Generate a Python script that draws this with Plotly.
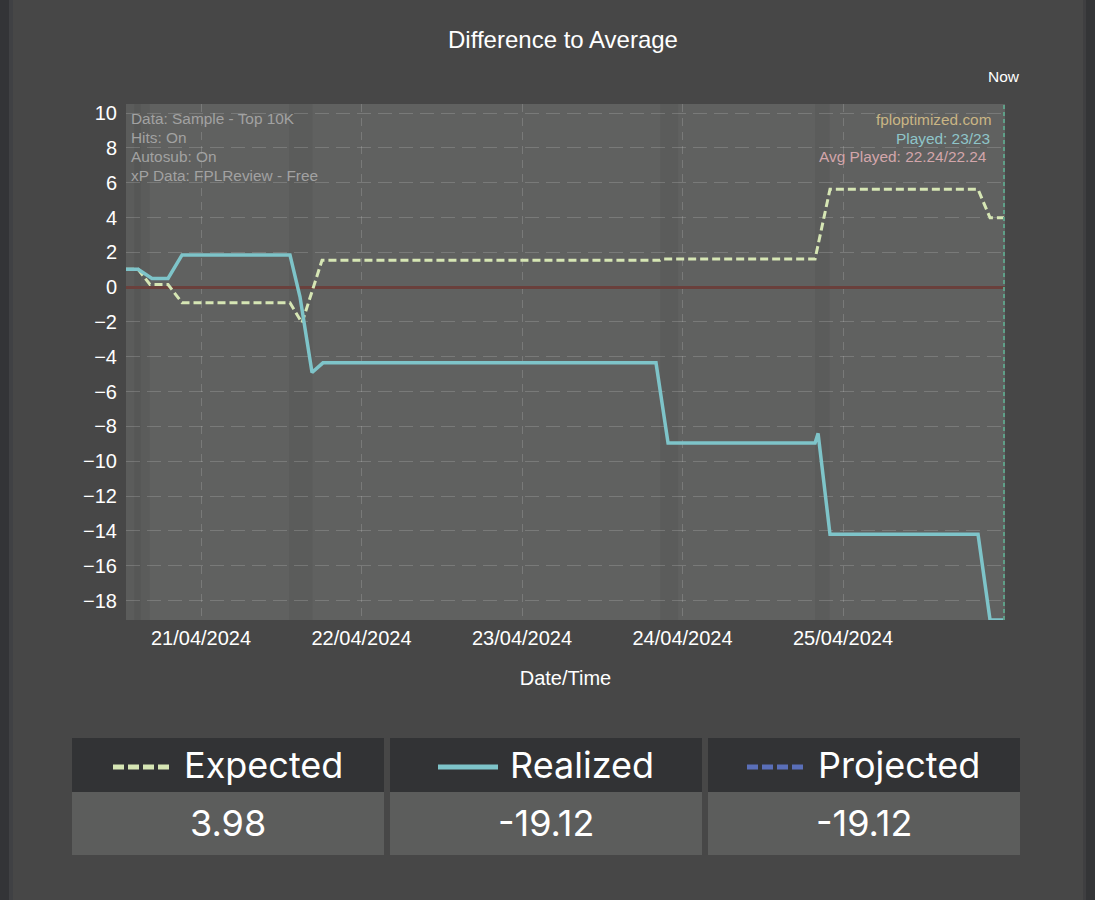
import plotly.graph_objects as go

# ---------------- data ----------------
realized_times = ["2024-04-20 12:47", "2024-04-20 14:35", "2024-04-20 16:40", "2024-04-20 19:04",
                  "2024-04-20 21:10", "2024-04-21 13:18", "2024-04-21 14:48", "2024-04-21 16:36",
                  "2024-04-21 18:14", "2024-04-23 20:02", "2024-04-23 21:50", "2024-04-24 19:49",
                  "2024-04-24 20:16", "2024-04-24 21:36", "2024-04-24 22:03", "2024-04-25 20:11",
                  "2024-04-25 21:59", "2024-04-26 00:04"]
realized_vals = [1.03, 1.03, 0.5, 0.5, 1.85, 1.85, -0.55, -4.9, -4.35, -4.35, -8.95, -8.95,
                 -8.4, -13.0, -14.2, -14.2, -19.12, -19.12]

expected_times = ["2024-04-20 12:47", "2024-04-20 14:35", "2024-04-20 16:22", "2024-04-20 19:04",
                  "2024-04-20 21:10", "2024-04-21 13:18", "2024-04-21 15:06", "2024-04-21 18:06",
                  "2024-04-23 20:38", "2024-04-23 21:00", "2024-04-24 19:49", "2024-04-24 22:03",
                  "2024-04-25 20:11", "2024-04-25 21:59", "2024-04-26 00:04"]
expected_vals = [1.03, 1.03, 0.15, 0.15, -0.9, -0.9, -2.05, 1.55, 1.55, 1.62, 1.62, 5.62,
                 5.62, 3.98, 3.98]

# fixture (live) windows shaded in the plot
band_starts = ["2024-04-20 12:47", "2024-04-20 14:00", "2024-04-21 13:10", "2024-04-23 20:40",
               "2024-04-24 19:49"]
band_ends = ["2024-04-20 16:20", "2024-04-20 15:00", "2024-04-21 16:40", "2024-04-23 23:20",
             "2024-04-24 22:00"]

now_time = "2024-04-26 00:04"
x_range = ["2024-04-20 12:47", "2024-04-26 00:13"]
x_ticks = ["2024-04-21", "2024-04-22", "2024-04-23", "2024-04-24", "2024-04-25"]
y_range = [-19.12, 10.52]
y_ticks = list(range(-18, 11, 2))

summary_labels = ["Expected", "Realized", "Projected"]
summary_values = ["3.98", "-19.12", "-19.12"]
summary_colors = ["#d6e6b4", "#7ec4c9", "#5a6fb8"]
summary_dash = ["11px,4px", "solid", "11px,4px"]

info_left = ["Data: Sample - Top 10K", "Hits: On", "Autosub: On", "xP Data: FPLReview - Free"]
info_right = ["fploptimized.com", "Played: 23/23", "Avg Played: 22.24/22.24"]
info_right_colors = ["#c9b584", "#8fc5c9", "#d3a6ab"]

# ---------------- geometry helpers ----------------
W, H = 1095, 900
L, R, T, B = 126, 1005, 104, 620


def px(x):
    return (x - L) / (R - L)


def py(y):
    return (B - y) / (B - T)


FONT = "Liberation Sans, Arial, sans-serif"
TFONT = "Inter, Noto Sans, sans-serif"

fig = go.Figure()

fig.add_trace(go.Scatter(x=expected_times, y=expected_vals, mode="lines", name="Expected",
                         line=dict(color="#d6e6b4", width=3, dash="8px,4px"),
                         showlegend=False))
fig.add_trace(go.Scatter(x=realized_times, y=realized_vals, mode="lines", name="Realized",
                         line=dict(color="#7ec4c9", width=3.5), showlegend=False))

shapes = []
# page side strips
shapes.append(dict(type="rect", xref="paper", yref="paper", x0=px(0), x1=px(9), y0=py(900), y1=py(0),
                   fillcolor="#333437", line_width=0, layer="below"))
shapes.append(dict(type="rect", xref="paper", yref="paper", x0=px(9), x1=px(13), y0=py(900), y1=py(0),
                   fillcolor="#404144", line_width=0, layer="below"))
shapes.append(dict(type="rect", xref="paper", yref="paper", x0=px(1083), x1=px(1086), y0=py(900), y1=py(0),
                   fillcolor="#3f3f41", line_width=0, layer="below"))
shapes.append(dict(type="rect", xref="paper", yref="paper", x0=px(1086), x1=px(1095), y0=py(900), y1=py(0),
                   fillcolor="#343537", line_width=0, layer="below"))

# fixture bands
for s, e in zip(band_starts, band_ends):
    shapes.append(dict(type="rect", xref="x", yref="paper", x0=s, x1=e, y0=0, y1=1,
                       fillcolor="rgba(0,0,0,0.05)", line_width=0, layer="below"))

# now line
shapes.append(dict(type="line", xref="x", yref="paper", x0=now_time, x1=now_time, y0=0, y1=1,
                   line=dict(color="#5f9f88", width=2, dash="4px,3px")))

# summary table
boxes = [(72, 384), (390, 702), (708, 1020)]
leg_x = [(113, 171), (438, 498), (747, 807)]
txt_x = [184, 510, 818]
for i, (x0, x1) in enumerate(boxes):
    shapes.append(dict(type="rect", xref="paper", yref="paper", x0=px(x0), x1=px(x1),
                       y0=py(792), y1=py(738), fillcolor="#323335", line_width=0))
    shapes.append(dict(type="rect", xref="paper", yref="paper", x0=px(x0), x1=px(x1),
                       y0=py(855), y1=py(792), fillcolor="#5c5d5c", line_width=0))
    shapes.append(dict(type="line", xref="paper", yref="paper", x0=px(leg_x[i][0]), x1=px(leg_x[i][1]),
                       y0=py(767), y1=py(767),
                       line=dict(color=summary_colors[i], width=5, dash=summary_dash[i])))

annotations = []
# Now label
annotations.append(dict(text="Now", xref="x", yref="paper", x=now_time, y=py(77), showarrow=False,
                        xanchor="center", yanchor="middle", font=dict(color="white", size=15.5, family=FONT)))
# info text
for i, t in enumerate(info_left):
    annotations.append(dict(text=t, xref="paper", yref="paper", x=px(129), y=py(118 + 19.3 * i),
                            showarrow=False, xanchor="left", yanchor="middle",
                            font=dict(color="#a2a2a2", size=15.4, family=FONT)))
right_edges = [993, 992, 989]
for i, t in enumerate(info_right):
    annotations.append(dict(text=t, xref="paper", yref="paper", x=px(right_edges[i]), y=py(119 + 19 * i),
                            showarrow=False, xanchor="right", yanchor="middle",
                            font=dict(color=info_right_colors[i], size=15.4, family=FONT)))
# table texts
for i, (x0, x1) in enumerate(boxes):
    annotations.append(dict(text=summary_labels[i], xref="paper", yref="paper", x=px(txt_x[i] - 2), y=py(765),
                            showarrow=False, xanchor="left", yanchor="middle",
                            font=dict(color="white", size=36, family=TFONT)))
    annotations.append(dict(text=summary_values[i], xref="paper", yref="paper", x=px((x0 + x1) / 2),
                            y=py(823), showarrow=False, xanchor="center", yanchor="middle",
                            font=dict(color="white", size=36, family=TFONT)))

fig.update_layout(
    width=W, height=H,
    margin=dict(l=L, r=W - R, t=T, b=H - B, autoexpand=False),
    paper_bgcolor="#474747",
    plot_bgcolor="#606160",
    font=dict(family=FONT, color="white", size=20),
    title=dict(text="Difference to Average", x=px(563), xref="paper", y=1 - 40 / H, yref="container",
               xanchor="center", yanchor="middle", font=dict(size=24, color="white", family=FONT)),
    shapes=shapes,
    annotations=annotations,
    showlegend=False,
)
fig.update_xaxes(
    type="date", range=x_range, tickformat="%d/%m/%Y", tickvals=x_ticks,
    showgrid=True, gridcolor="rgba(255,255,255,0.16)", griddash="8px,6px", gridwidth=1,
    zeroline=False, showline=False, ticks="", ticklabelstandoff=4, tickfont=dict(size=20, color="white"),
    title=dict(text="Date/Time", standoff=22, font=dict(size=20, color="white")),
)
fig.update_yaxes(
    range=y_range, tickvals=y_ticks, showgrid=True, gridcolor="rgba(255,255,255,0.16)",
    griddash="14px,7px", gridwidth=1, zeroline=True, zerolinecolor="#6a403c", zerolinewidth=3,
    showline=False, ticks="", ticklabelstandoff=8, tickfont=dict(size=20, color="white"),
)

fig.write_html("out.html", config={"displayModeBar": False},
               post_script="document.body.style.margin='0';")
